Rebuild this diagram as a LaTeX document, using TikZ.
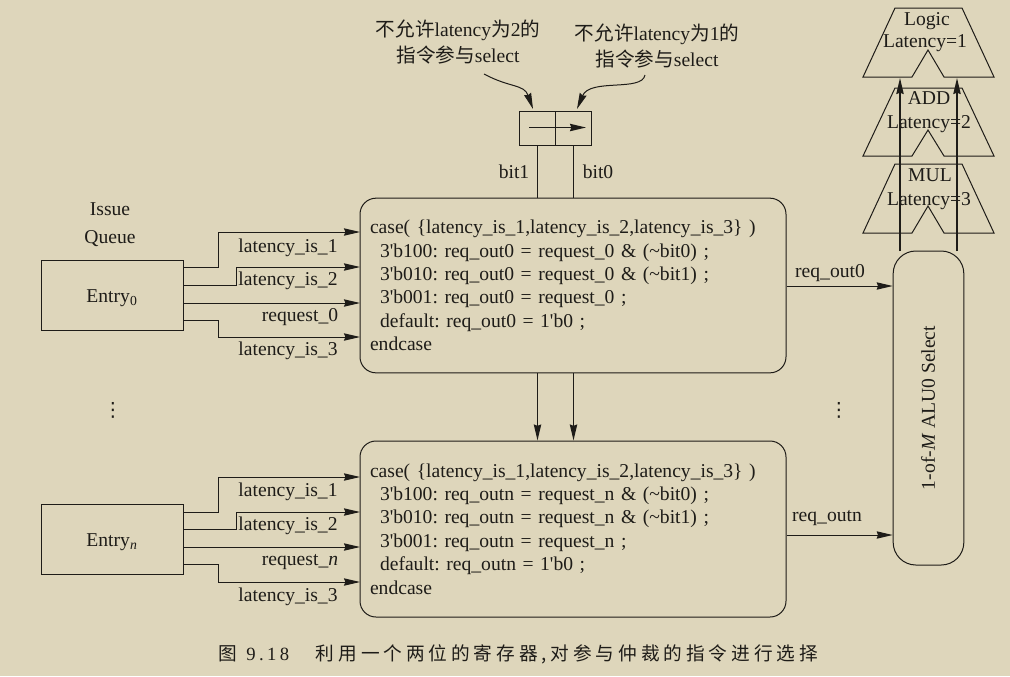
\documentclass[tikz,border=0pt]{standalone}
\usepackage{fontspec}
\newfontfamily\plainserif{Liberation Serif}
\newfontfamily\cjk{Noto Sans CJK SC}
\newfontfamily\capcjk{Noto Sans CJK SC}[LetterSpace=21]
\newfontfamily\capnum{Liberation Serif}[LetterSpace=18]
\newfontfamily\symfont{DejaVu Sans}
\usetikzlibrary{positioning, arrows.meta}
\definecolor{paper}{RGB}{222,214,187}
\definecolor{ink}{RGB}{30,28,24}

\begin{document}
\frenchspacing
\begin{tikzpicture}[x=0.75pt, y=-0.75pt, color=ink, text=ink, font=\plainserif\fontsize{14.7}{17.6}\selectfont]

% Define styles
\tikzstyle{entry} = [rectangle, draw, line width=0.75pt, minimum width=106.5pt, minimum height=52pt, inner sep=0pt]
\tikzstyle{casebox} = [rectangle, draw, line width=0.75pt, rounded corners=12pt, text width=304.5pt, inner xsep=7.5pt, inner ysep=0pt, align=left]
\tikzstyle{regcell} = [rectangle, draw, line width=0.75pt, minimum width=26.6pt, minimum height=26pt, inner sep=0pt]
\tikzstyle{selectbox} = [rectangle, draw, line width=0.75pt, rounded corners=17pt, minimum width=53pt, minimum height=235.5pt, inner sep=0pt]
\tikzstyle{arrow} = [line width=0.75pt, -{Stealth[length=12pt, width=5.5pt, inset=1pt]}]
\tikzstyle{uparrow} = [line width=1.2pt, -{Stealth[length=12pt, width=5.5pt, inset=1pt]}]
\tikzstyle{wire} = [line width=1.05pt]
\tikzstyle{alu} = [line width=0.75pt, line join=miter]
\tikzstyle{sig} = [inner sep=0pt]

% Background
\fill [paper] (0,0) rectangle (1010,676);
\useasboundingbox (0,0) rectangle (1010,676);

% Issue queue
\node [sig] (issue) at (110,209) {Issue};
\node [sig] (queue) at (110,239) {Queue};
\node [entry] (entry0) at (112,295.5) {\rule{0pt}{14pt}Entry\textsubscript{0}};
\node [entry] (entryn) at (112,539.5) {\rule{0pt}{14pt}Entry\textsubscript{\textit{n}}};
\node [sig] (dotsl) at (113,410) {{\symfont ⋮}};

% Case blocks
\node [casebox, minimum height=131pt] (case0) at (573,285.5) {%
case( \{latency\_is\_1,latency\_is\_2,latency\_is\_3\} )\\
\hspace{7.5pt}3'b100: req\_out0 = request\_0 \& (\textasciitilde bit0) ;\\
\hspace{7.5pt}3'b010: req\_out0 = request\_0 \& (\textasciitilde bit1) ;\\
\hspace{7.5pt}3'b001: req\_out0 = request\_0 ;\\
\hspace{7.5pt}default: req\_out0 = 1'b0 ;\\
endcase};
\node [casebox, minimum height=132pt] (casen) at (573,529) {%
case( \{latency\_is\_1,latency\_is\_2,latency\_is\_3\} )\\
\hspace{7.5pt}3'b100: req\_outn = request\_n \& (\textasciitilde bit0) ;\\
\hspace{7.5pt}3'b010: req\_outn = request\_n \& (\textasciitilde bit1) ;\\
\hspace{7.5pt}3'b001: req\_outn = request\_n ;\\
\hspace{7.5pt}default: req\_outn = 1'b0 ;\\
endcase};

% Register
\node [regcell] (regbit1) at (537.5,128.5) {};
\node [regcell] (regbit0) at (573.5,128.5) {};
\node [sig] (notetwo) at (458,42) [align=center] {{\cjk 不允许}latency{\cjk 为}2{\cjk 的}\\[1.5pt]{\cjk 指令参与}select};
\node [sig] (noteone) at (657,46) [align=center] {{\cjk 不允许}latency{\cjk 为}1{\cjk 的}\\[1.5pt]{\cjk 指令参与}select};
\node [sig] (bitone) at (514,172) {bit1};
\node [sig] (bitzero) at (598,172) {bit0};
\coordinate (shiftL) at (529,127.5);
\coordinate (shiftR) at (586,127.5);
\coordinate (noteL) at (484,74);
\coordinate (noteR) at (645,75);
\draw [uparrow] (shiftL) -- (shiftR);
\draw [arrow] (noteL) .. controls (510,88) and (524,84) .. (533,109);
\draw [arrow] (noteR) .. controls (642,92) and (590,78) .. (577,109);
\draw [wire] (regbit1.south) -- (regbit1.south |- case0.north);
\draw [wire] (regbit0.south) -- (regbit0.south |- case0.north);
\draw [arrow, line width=1.05pt] (regbit1.south |- case0.south) -- (regbit1.south |- casen.north);
\draw [arrow, line width=1.05pt] (regbit0.south |- case0.south) -- (regbit0.south |- casen.north);

% Entry 0 signals
\coordinate (e0a) at (183,267);
\coordinate (e0b) at (183,285);
\coordinate (e0c) at (183,303);
\coordinate (e0d) at (183,320);
\coordinate (c0a) at (360,232);
\coordinate (c0b) at (360,267);
\coordinate (c0c) at (360,303);
\coordinate (c0d) at (360,337);
\draw [arrow] (e0a) -- ++(35,0) |- (c0a);
\draw [arrow] (e0b) -- ++(53,0) |- (c0b);
\draw [arrow] (e0c) -- (c0c);
\draw [arrow] (e0d) -- ++(35,0) |- (c0d);
\node [sig] at (288,247.5) {latency\_is\_1};
\node [sig] at (288,281) {latency\_is\_2};
\node [sig] at (300,317) {request\_0};
\node [sig] at (288,351) {latency\_is\_3};

% Entry n signals
\coordinate (ena) at (183,512);
\coordinate (enb) at (183,529);
\coordinate (enc) at (183,547);
\coordinate (end) at (183,564);
\coordinate (cna) at (360,477);
\coordinate (cnb) at (360,512);
\coordinate (cnc) at (360,547);
\coordinate (cnd) at (360,582);
\draw [arrow] (ena) -- ++(35,0) |- (cna);
\draw [arrow] (enb) -- ++(53,0) |- (cnb);
\draw [arrow] (enc) -- (cnc);
\draw [arrow] (end) -- ++(35,0) |- (cnd);
\node [sig] at (288,492) {latency\_is\_1};
\node [sig] at (288,526) {latency\_is\_2};
\node [sig] at (300,562) {request\_\textit{n}};
\node [sig] at (288,597) {latency\_is\_3};

% Select
\node [selectbox] (select) at (928.5,408) {};
\node [sig, rotate=90] (selecttxt) at (928,408) {1-of-\textit{M} ALU0 Select};
\node [sig] (dotsr) at (839,410) {{\symfont ⋮}};
\draw [arrow] (case0.east |- 0,286) -- (select.west |- 0,286);
\draw [arrow] (casen.east |- 0,535) -- (select.west |- 0,535);
\node [sig] at (830,273) {req\_out0};
\node [sig] at (827,518) {req\_outn};

% Function units
\draw [alu] (895,8) -- (962,8) -- (994,77) -- (944,77) -- (928,50) -- (912,77) -- (863,77) -- cycle;
\draw [alu] (895,88) -- (962,88) -- (994,156) -- (944,156) -- (928,130) -- (912,156) -- (863,156) -- cycle;
\draw [alu] (895,164) -- (962,164) -- (994,233) -- (944,233) -- (928,206) -- (912,233) -- (863,233) -- cycle;
\node [sig] (logic) at (927,21) {Logic};
\node [sig] (logiclat) at (925,43) {Latency=1};
\node [sig] (add) at (929,98) {ADD};
\node [sig] (addlat) at (929,124) {Latency=2};
\node [sig] (mul) at (930,175) {MUL};
\node [sig] (mullat) at (929,201) {Latency=3};
\coordinate (selL) at (900,251);
\coordinate (selR) at (957,251);
\coordinate (logicL) at (900,78);
\coordinate (logicR) at (957,78);
\draw [uparrow] (selL) -- (logicL);
\draw [uparrow] (selR) -- (logicR);

% Caption
\node [sig] (caption) at (518,654) {\fontsize{14}{17}\selectfont{\capcjk 图}\hspace{3.75pt} {\capnum 9.18}\hspace{20pt}{\capcjk 利用一个两位的寄存器,对参与仲裁的指令进行选择}};

\end{tikzpicture}
\end{document}
